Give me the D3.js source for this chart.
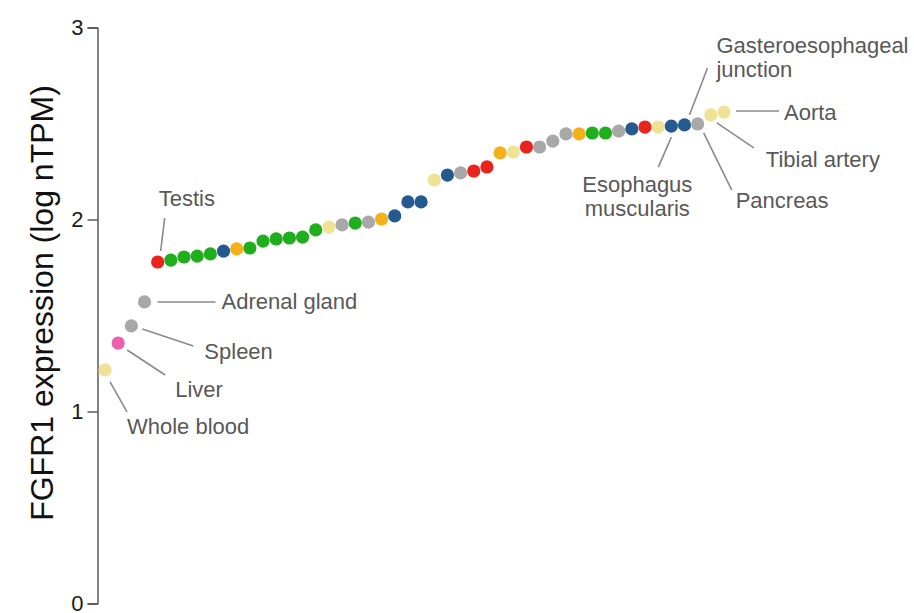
<!DOCTYPE html>
<html>
<head>
<meta charset="utf-8">
<script src="https://cdn.jsdelivr.net/npm/d3@7"></script>
<style>
  html, body { margin: 0; padding: 0; background: #fff; }
  svg { display: block; font-family: "Liberation Sans", Arial, sans-serif; }
</style>
</head>
<body>
<svg id="chart" width="914" height="613"></svg>
<script>
// ---- data ----
const expression = [
  1.214, 1.354, 1.443, 1.568, 1.776, 1.786, 1.802, 1.807, 1.818, 1.833,
  1.844, 1.849, 1.885, 1.896, 1.901, 1.906, 1.943, 1.958, 1.969, 1.979,
  1.984, 2.000, 2.016, 2.089, 2.089, 2.203, 2.229, 2.240, 2.250, 2.271,
  2.344, 2.349, 2.375, 2.375, 2.406, 2.443, 2.443, 2.448, 2.448, 2.458,
  2.469, 2.479, 2.479, 2.484, 2.490, 2.495, 2.542, 2.557
];
const groups = [
  "yellow", "pink", "grey", "grey", "red", "green", "green", "green", "green", "blue",
  "orange", "green", "green", "green", "green", "green", "green", "yellow", "grey", "green",
  "grey", "orange", "blue", "blue", "blue", "yellow", "blue", "grey", "red", "red",
  "orange", "yellow", "red", "grey", "grey", "grey", "orange", "green", "green", "grey",
  "blue", "red", "yellow", "blue", "blue", "grey", "yellow", "yellow"
];
const groupNames = ["yellow", "pink", "grey", "red", "green", "blue", "orange"];
const groupColors = ["#efe294", "#ee5fae", "#a8a8a8", "#e8241c", "#1fae1c", "#245a8f", "#f4b11a"];
const yTicks = [0, 1, 2, 3];
const yTitle = "FGFR1 expression (log nTPM)";
const labelIndex = [0, 1, 2, 3, 4, 43, 44, 45, 46, 47];
const labelText = [
  ["Whole blood"], ["Liver"], ["Spleen"], ["Adrenal gland"], ["Testis"],
  ["Esophagus", "muscularis"], ["Gasteroesophageal", "junction"],
  ["Pancreas"], ["Tibial artery"], ["Aorta"]
];

// ---- layout (annotation offsets relative to the point, in px) ----
const labelLayout = [
  { l: [5, 12, 22, 42],   t: [22, 64],  anchor: "start" },
  { l: [9, 7, 47, 32],    t: [57, 54],  anchor: "start" },
  { l: [11, 3, 62, 20],   t: [73, 33],  anchor: "start" },
  { l: [13, 0, 71, 0],    t: [77, 7],   anchor: "start" },
  { l: [3, -11, 7, -44],  t: [1, -56],  anchor: "start" },
  { l: [0, 11, -13, 41],  t: [-34, 66], anchor: "middle" },
  { l: [5, -10, 23, -57], t: [32, -72], anchor: "start" },
  { l: [6, 9, 34, 66],    t: [38, 84],  anchor: "start" },
  { l: [6, 8, 43, 33],    t: [55, 52],  anchor: "start" },
  { l: [12, -1, 55, -1],  t: [60, 8],   anchor: "start" }
];

const svg = d3.select("#chart");
const x = d3.scaleLinear().domain([0, expression.length - 1]).range([105, 724]);
const y = d3.scaleLinear().domain([0, 3]).range([603, 27]);
const color = d3.scaleOrdinal().domain(groupNames).range(groupColors);

// axis
const axis = svg.append("g")
  .attr("transform", "translate(97.5,0.5)")
  .call(d3.axisLeft(y).tickValues(yTicks).tickFormat(d3.format("d")).tickSize(10).tickSizeOuter(10).tickPadding(4));
axis.select(".domain").attr("stroke", "#333").attr("stroke-width", 1.2);
axis.selectAll(".tick line").attr("stroke", "#333").attr("stroke-width", 1.2);
axis.selectAll(".tick text").attr("font-size", 22).attr("fill", "#1a1a1a")
  .attr("font-family", "Liberation Sans, Arial, sans-serif");

svg.append("text")
  .attr("transform", `translate(53,303) rotate(-90)`)
  .attr("text-anchor", "middle")
  .attr("font-size", 32)
  .attr("fill", "#111")
  .text(yTitle);

// leader lines and labels
const lab = svg.append("g");
labelIndex.forEach((idx, k) => {
  const px = x(idx), py = y(expression[idx]);
  const L = labelLayout[k];
  lab.append("line")
    .attr("x1", px + L.l[0]).attr("y1", py + L.l[1])
    .attr("x2", px + L.l[2]).attr("y2", py + L.l[3])
    .attr("stroke", "#8a8a8a").attr("stroke-width", 1.6);
  const t = lab.append("text")
    .attr("x", px + L.t[0]).attr("y", py + L.t[1])
    .attr("text-anchor", L.anchor)
    .attr("font-size", 22)
    .attr("fill", "#585858");
  labelText[k].forEach((line, j) => {
    t.append("tspan").attr("x", px + L.t[0]).attr("dy", j === 0 ? 0 : 24).text(line);
  });
});

// points
svg.append("g").selectAll("circle")
  .data(expression)
  .join("circle")
  .attr("cx", (d, i) => x(i))
  .attr("cy", d => y(d))
  .attr("r", 6.6)
  .attr("fill", (d, i) => color(groups[i]));
</script>
</body>
</html>
